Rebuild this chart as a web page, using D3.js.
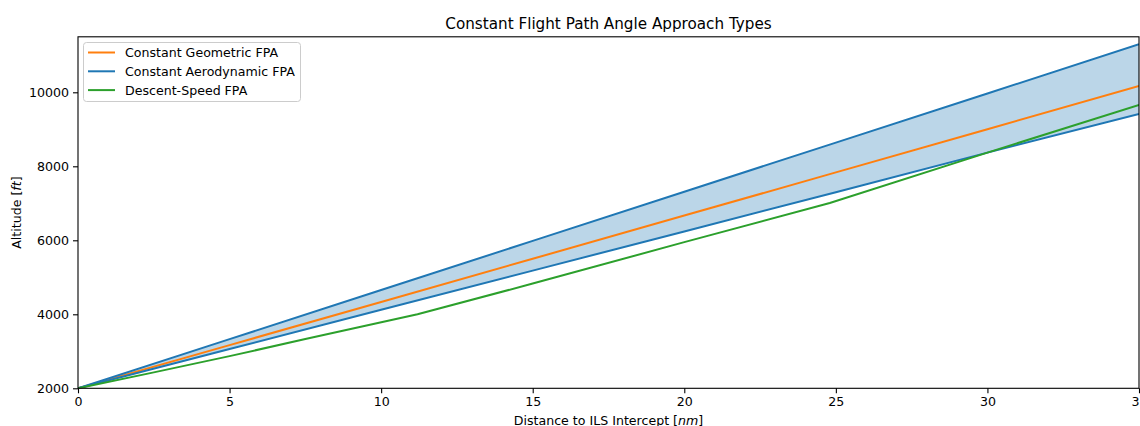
<!DOCTYPE html>
<html>
<head>
<meta charset="utf-8">
<script src="https://cdn.jsdelivr.net/npm/d3@7"></script>
<style>
  html, body { margin: 0; padding: 0; background: #fff; overflow: hidden; }
  svg { display: block; font-family: "DejaVu Sans", sans-serif; }
</style>
</head>
<body>
<svg id="chart" width="1140" height="426"></svg>
<script>
// Approach profiles: altitude [ft] versus distance to ILS intercept [nm]
const distance = [0, 5, 10, 15, 20, 25, 30, 35];
const geometricFPA = [2000, 3167, 4334, 5501, 6668, 7835, 9002, 10170];
const aeroUpper = [2000, 3328, 4656, 5984, 7312, 8640, 9968, 11297];
const aeroLower = [2000, 3062, 4122, 5180, 6240, 7300, 8370, 9414];

const speedDistance = [0, 2.5, 5, 7.5, 11.2, 15, 20, 24.8, 30, 35];
const descentSpeedFPA = [2000, 2430, 2870, 3330, 4000, 4830, 5950, 7010, 8370, 9657];

const xTicks = [0, 5, 10, 15, 20, 25, 30, 35];
const yTicks = [2000, 4000, 6000, 8000, 10000];
const xDomain = [0, 35];
const yDomain = [2000, 11500];

const C_BLUE = "#1f77b4", C_ORANGE = "#ff7f0e", C_GREEN = "#2ca02c";
const FS = 12.6;

const svg = d3.select("#chart");
const plotLeft = 78, plotRight = 1139, plotTop = 36.8, plotBottom = 388.3;

const x = d3.scaleLinear().domain(xDomain).range([plotLeft, plotRight]);
const y = d3.scaleLinear().domain(yDomain).range([plotBottom, plotTop]);

// clip for plot content
svg.append("defs").append("clipPath").attr("id", "plotclip")
  .append("rect").attr("x", plotLeft).attr("y", plotTop)
  .attr("width", plotRight - plotLeft).attr("height", plotBottom - plotTop);

const plot = svg.append("g").attr("clip-path", "url(#plotclip)");

// band between the aerodynamic FPA bounds
const band = distance.map((d, i) => ({ d, lo: aeroLower[i], hi: aeroUpper[i] }));
plot.append("path")
  .datum(band)
  .attr("fill", C_BLUE)
  .attr("fill-opacity", 0.3)
  .attr("d", d3.area().x(p => x(p.d)).y0(p => y(p.lo)).y1(p => y(p.hi)));

const line = d3.line().x(p => x(p[0])).y(p => y(p[1]));
function drawSeries(xs, ys, color) {
  plot.append("path")
    .datum(xs.map((v, i) => [v, ys[i]]))
    .attr("fill", "none")
    .attr("stroke", color)
    .attr("stroke-width", 2)
    .attr("stroke-linejoin", "round")
    .attr("d", line);
}
drawSeries(distance, geometricFPA, C_ORANGE);
drawSeries(distance, aeroUpper, C_BLUE);
drawSeries(distance, aeroLower, C_BLUE);
drawSeries(speedDistance, descentSpeedFPA, C_GREEN);

// axes
const xAxis = d3.axisBottom(x).tickValues(xTicks).tickSize(5).tickPadding(4).tickFormat(d3.format("d"));
const yAxis = d3.axisLeft(y).tickValues(yTicks).tickSize(5).tickPadding(4).tickFormat(d3.format("d"));

const gx = svg.append("g").attr("transform", `translate(0,${plotBottom})`).call(xAxis);
const gy = svg.append("g").attr("transform", `translate(${plotLeft},0)`).call(yAxis);
[gx, gy].forEach(g => {
  g.select(".domain").remove();
  g.selectAll("line").attr("stroke", "#000").attr("stroke-width", 1.1);
  g.selectAll("text").attr("font-size", FS).attr("fill", "#000")
    .attr("font-family", "DejaVu Sans, sans-serif");
});

// frame
svg.append("rect").attr("x", plotLeft).attr("y", plotTop)
  .attr("width", plotRight - plotLeft).attr("height", plotBottom - plotTop)
  .attr("fill", "none").attr("stroke", "#000").attr("stroke-width", 1.1);

// title and labels
svg.append("text").attr("x", (plotLeft + plotRight) / 2).attr("y", 29)
  .attr("text-anchor", "middle").attr("font-size", 15.2).attr("fill", "#000")
  .text("Constant Flight Path Angle Approach Types");

const xl = svg.append("text").attr("x", (plotLeft + plotRight) / 2).attr("y", 424.5)
  .attr("text-anchor", "middle").attr("font-size", FS).attr("fill", "#000");
xl.append("tspan").text("Distance to ILS Intercept [");
xl.append("tspan").attr("font-style", "italic").text("nm");
xl.append("tspan").text("]");

const yl = svg.append("text")
  .attr("transform", `translate(21,${(plotTop + plotBottom) / 2}) rotate(-90)`)
  .attr("text-anchor", "middle").attr("font-size", FS).attr("fill", "#000");
yl.append("tspan").text("Altitude [");
yl.append("tspan").attr("font-style", "italic").text("ft");
yl.append("tspan").text("]");

// legend
const legendItems = [
  { label: "Constant Geometric FPA", color: C_ORANGE },
  { label: "Constant Aerodynamic FPA", color: C_BLUE },
  { label: "Descent-Speed FPA", color: C_GREEN }
];
const lg = svg.append("g");
lg.append("rect").attr("x", 83.5).attr("y", 42.5).attr("width", 217).attr("height", 59)
  .attr("rx", 3).attr("fill", "#fff").attr("fill-opacity", 0.8)
  .attr("stroke", "#cccccc").attr("stroke-width", 1);
legendItems.forEach((it, i) => {
  const yy = 52.5 + i * 18.8;
  lg.append("line").attr("x1", 88).attr("x2", 115).attr("y1", yy).attr("y2", yy)
    .attr("stroke", it.color).attr("stroke-width", 2);
  lg.append("text").attr("x", 125).attr("y", yy + 4.5)
    .attr("font-size", FS).attr("fill", "#000").text(it.label);
});
</script>
</body>
</html>
